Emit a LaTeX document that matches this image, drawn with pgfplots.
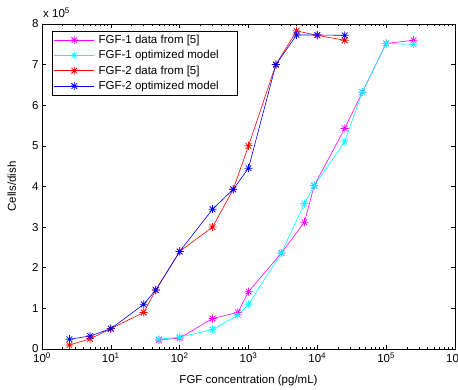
\documentclass[border=0pt]{standalone}
\usepackage{pgfplots}
\pgfplotsset{compat=1.18}
\usepackage{fontspec}
\setmainfont{Liberation Sans}
\pgfdeclareplotmark{mstar}{%
  \pgfpathmoveto{\pgfqpoint{-\pgfplotmarksize}{0pt}}\pgfpathlineto{\pgfqpoint{\pgfplotmarksize}{0pt}}%
  \pgfpathmoveto{\pgfqpoint{0pt}{-\pgfplotmarksize}}\pgfpathlineto{\pgfqpoint{0pt}{\pgfplotmarksize}}%
  \pgfpathmoveto{\pgfqpoint{-0.707\pgfplotmarksize}{-0.707\pgfplotmarksize}}\pgfpathlineto{\pgfqpoint{0.707\pgfplotmarksize}{0.707\pgfplotmarksize}}%
  \pgfpathmoveto{\pgfqpoint{-0.707\pgfplotmarksize}{0.707\pgfplotmarksize}}\pgfpathlineto{\pgfqpoint{0.707\pgfplotmarksize}{-0.707\pgfplotmarksize}}%
  \pgfusepathqstroke}
\begin{document}
\begin{tikzpicture}
\begin{axis}[
  scale only axis, width=413pt, height=325pt,
  xmode=log, xmin=1, xmax=1e6, ymin=0, ymax=800000,
  xtick={1,10,100,1000,10000,100000,1000000},
  xticklabels={10\textsuperscript{0},10\textsuperscript{1},10\textsuperscript{2},10\textsuperscript{3},10\textsuperscript{4},10\textsuperscript{5},10\textsuperscript{6}},
  ytick={0,100000,200000,300000,400000,500000,600000,700000,800000},
  yticklabels={0,1,2,3,4,5,6,7,8},
  scaled y ticks=false,
  tick align=inside,
  major tick length=4pt, minor tick length=2pt,
  axis line style={line width=0.6pt},
  every tick/.style={black, line width=0.5pt},
  tick label style={font=\fontsize{11.5}{13}\selectfont},
  xlabel={FGF concentration (pg/mL)},
  ylabel={Cells/dish},
  label style={font=\fontsize{11.5}{13}\selectfont},
  xlabel style={at={(axis description cs:0.5,-0.098)}, anchor=center},
  ylabel style={at={(axis description cs:-0.073,0.5)}, anchor=center},
  legend style={at={(0.0235,0.979)}, anchor=north west, draw=black, line width=0.6pt,
    font=\fontsize{11.5}{13}\selectfont, row sep=1.5pt, inner sep=2pt,
    /tikz/every odd column/.append style={column sep=2pt}},
  legend cell align=left,
  legend image code/.code={\draw[#1] (2pt,0pt) -- (42pt,0pt); \draw[#1, only marks] plot coordinates {(22pt,0pt)};},
  every axis plot/.append style={line width=0.6pt, mark=mstar, mark size=4pt, mark options={line width=0.75pt}},
]
\addplot[color={rgb,1:red,1;green,0;blue,1}] coordinates {
(50,22000) (100,27000) (300,75000) (700,90000) (1000,141000) (3000,236000) (6500,312000) (9000,402000) (25000,543000) (45000,632000) (100000,752000) (250000,760000)};
\addlegendentry{FGF-1 data from [5]}
\addplot[color={rgb,1:red,0;green,1;blue,1}] coordinates {
(50,24000) (100,29000) (300,48000) (700,83000) (1000,110000) (3000,236000) (6500,358000) (9000,402000) (25000,510000) (45000,632000) (100000,752000) (250000,750000)};
\addlegendentry{FGF-1 optimized model\hspace*{15pt}}
\addplot[color=red] coordinates {
(2.5,10000) (5,25000) (10,50000) (30,90000) (45,145000) (100,240000) (300,300000) (600,393000) (1000,500000) (2500,700000) (5000,783000) (10000,772000) (25000,760000)};
\addlegendentry{FGF-2 data from [5]}
\addplot[color=blue] coordinates {
(2.5,24000) (5,32000) (10,50000) (30,110000) (45,145000) (100,240000) (300,344000) (600,393000) (1000,445000) (2500,700000) (5000,773000) (10000,773000) (25000,772000)};
\addlegendentry{FGF-2 optimized model}
\end{axis}
\node[anchor=base west, font=\fontsize{11.5}{13}\selectfont, inner sep=0pt] at ([xshift=1pt,yshift=6pt]current axis.north west) {x 10\textsuperscript{5}};
\pgfresetboundingbox
\path[use as bounding box] ([xshift=-42pt,yshift=-41pt]current axis.south west) rectangle ([xshift=3pt,yshift=24pt]current axis.north east);
\end{tikzpicture}
\end{document}
